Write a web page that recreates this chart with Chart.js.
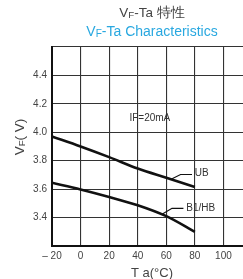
<!DOCTYPE html>
<html>
<head>
<meta charset="utf-8">
<script src="https://cdn.jsdelivr.net/npm/chart.js@4"></script>
<style>
  html, body { margin: 0; padding: 0; background: #fff; overflow: hidden; }
  #wrap { width: 260px; height: 279px; }
</style>
</head>
<body>
<div id="wrap"><canvas id="chart" width="260" height="279"></canvas></div>
<script>
// temperatura (°C) e tensao direta (V)
const temps = [-20, 0, 20, 40, 60, 80];
const vfUB = [3.97, 3.90, 3.825, 3.745, 3.68, 3.615];
const vfB1HB = [3.645, 3.598, 3.545, 3.487, 3.41, 3.30];
const xTicks = [-20, 0, 20, 40, 60, 80, 100, 120];
const yTicks = [3.2, 3.4, 3.6, 3.8, 4.0, 4.2, 4.4, 4.6];

const FONT = '"Liberation Sans", Arial, sans-serif';

// escreve texto com "F" subscrito depois do "V"
function drawSubText(ctx, parts, x, y, size, color, align) {
    ctx.save();
    ctx.fillStyle = color;
    ctx.textBaseline = 'alphabetic';
    let total = 0;
    parts.forEach(p => {
        ctx.font = (p.sub ? size * 0.72 : size) + 'px ' + FONT;
        total += ctx.measureText(p.t).width;
    });
    let cx = align === 'center' ? x - total / 2 : x;
    parts.forEach(p => {
        ctx.font = (p.sub ? size * 0.72 : size) + 'px ' + FONT;
        ctx.textAlign = 'left';
        ctx.fillText(p.t, cx, y + (p.sub ? size * 0.1 : 0));
        cx += ctx.measureText(p.t).width;
    });
    ctx.restore();
}

const textPlugin = {
    id: 'textPlugin',
    afterDraw(chart) {
        const ctx = chart.ctx;
        const xs = chart.scales.x, ys = chart.scales.y;
        const area = chart.chartArea;
        const cx = (area.left + area.right) / 2;

        // titulos
        drawSubText(ctx, [{ t: 'V' }, { t: 'F', sub: true }, { t: '-Ta 特性' }], cx, 17, 13.5, '#444', 'center');
        drawSubText(ctx, [{ t: 'V' }, { t: 'F', sub: true }, { t: '-Ta Characteristics' }], cx, 36, 14, '#29a8e0', 'center');

        // titulo do eixo X
        drawSubText(ctx, [{ t: 'T a(°C)' }], cx, 277, 13, '#444', 'center');

        // titulo do eixo Y (rotacionado)
        ctx.save();
        ctx.translate(24, 137);
        ctx.rotate(-Math.PI / 2);
        drawSubText(ctx, [{ t: 'V' }, { t: 'F', sub: true }, { t: '( V)' }], 0, 0, 13.5, '#444', 'center');
        ctx.restore();

        // anotacoes
        ctx.save();
        ctx.font = '10px ' + FONT;
        ctx.fillStyle = '#333';
        ctx.textBaseline = 'middle';
        ctx.textAlign = 'center';
        ctx.fillText('IF=20mA', xs.getPixelForValue(48.5), ys.getPixelForValue(4.1));

        ctx.strokeStyle = '#111';
        ctx.lineWidth = 1.2;
        // UB
        ctx.beginPath();
        ctx.moveTo(xs.getPixelForValue(63), ys.getPixelForValue(3.668));
        ctx.lineTo(xs.getPixelForValue(70), ys.getPixelForValue(3.703));
        ctx.lineTo(xs.getPixelForValue(78), ys.getPixelForValue(3.703));
        ctx.stroke();
        ctx.textAlign = 'left';
        ctx.fillText('UB', xs.getPixelForValue(80), ys.getPixelForValue(3.71));
        // B1/HB
        ctx.beginPath();
        ctx.moveTo(xs.getPixelForValue(57), ys.getPixelForValue(3.423));
        ctx.lineTo(xs.getPixelForValue(64), ys.getPixelForValue(3.465));
        ctx.lineTo(xs.getPixelForValue(72), ys.getPixelForValue(3.465));
        ctx.stroke();
        ctx.fillText('B1/HB', xs.getPixelForValue(74), ys.getPixelForValue(3.468));
        ctx.restore();
    }
};

new Chart(document.getElementById('chart'), {
    type: 'line',
    data: {
        datasets: [
            { label: 'UB', data: temps.map((t, i) => ({ x: t, y: vfUB[i] })) },
            { label: 'B1/HB', data: temps.map((t, i) => ({ x: t, y: vfB1HB[i] })) }
        ].map(d => Object.assign(d, {
            borderColor: '#111',
            borderWidth: 2.6,
            pointRadius: 0,
            cubicInterpolationMode: 'monotone',
            fill: false
        }))
    },
    options: {
        responsive: false,
        animation: false,
        layout: { padding: { top: 47, right: 8, left: 0, bottom: 0 } },
        plugins: { legend: { display: false }, tooltip: { enabled: false }, title: { display: false } },
        scales: {
            x: {
                type: 'linear',
                min: -20, max: 120,
                afterBuildTicks: s => { s.ticks = xTicks.map(v => ({ value: v })); },
                afterFit: s => { s.height = 33; },
                grid: { color: '#333', lineWidth: 1.1, drawTicks: false },
                border: { color: '#111', width: 2 },
                ticks: {
                    padding: 4,
                    color: '#444',
                    font: { family: FONT, size: 10 },
                    maxRotation: 0,
                    callback: v => v === -20 ? '– 20' : (v === 120 ? '' : String(v))
                }
            },
            y: {
                min: 3.2, max: 4.6,
                afterBuildTicks: s => { s.ticks = yTicks.map(v => ({ value: v })); },
                afterFit: s => { s.width = 52; },
                grid: { color: '#333', lineWidth: 1.1, drawTicks: false },
                border: { color: '#111', width: 2 },
                ticks: {
                    padding: 5,
                    color: '#444',
                    font: { family: FONT, size: 10 },
                    callback: v => (v < 3.3 || v > 4.5) ? '' : v.toFixed(1)
                }
            }
        }
    },
    plugins: [textPlugin]
});
</script>
</body>
</html>
